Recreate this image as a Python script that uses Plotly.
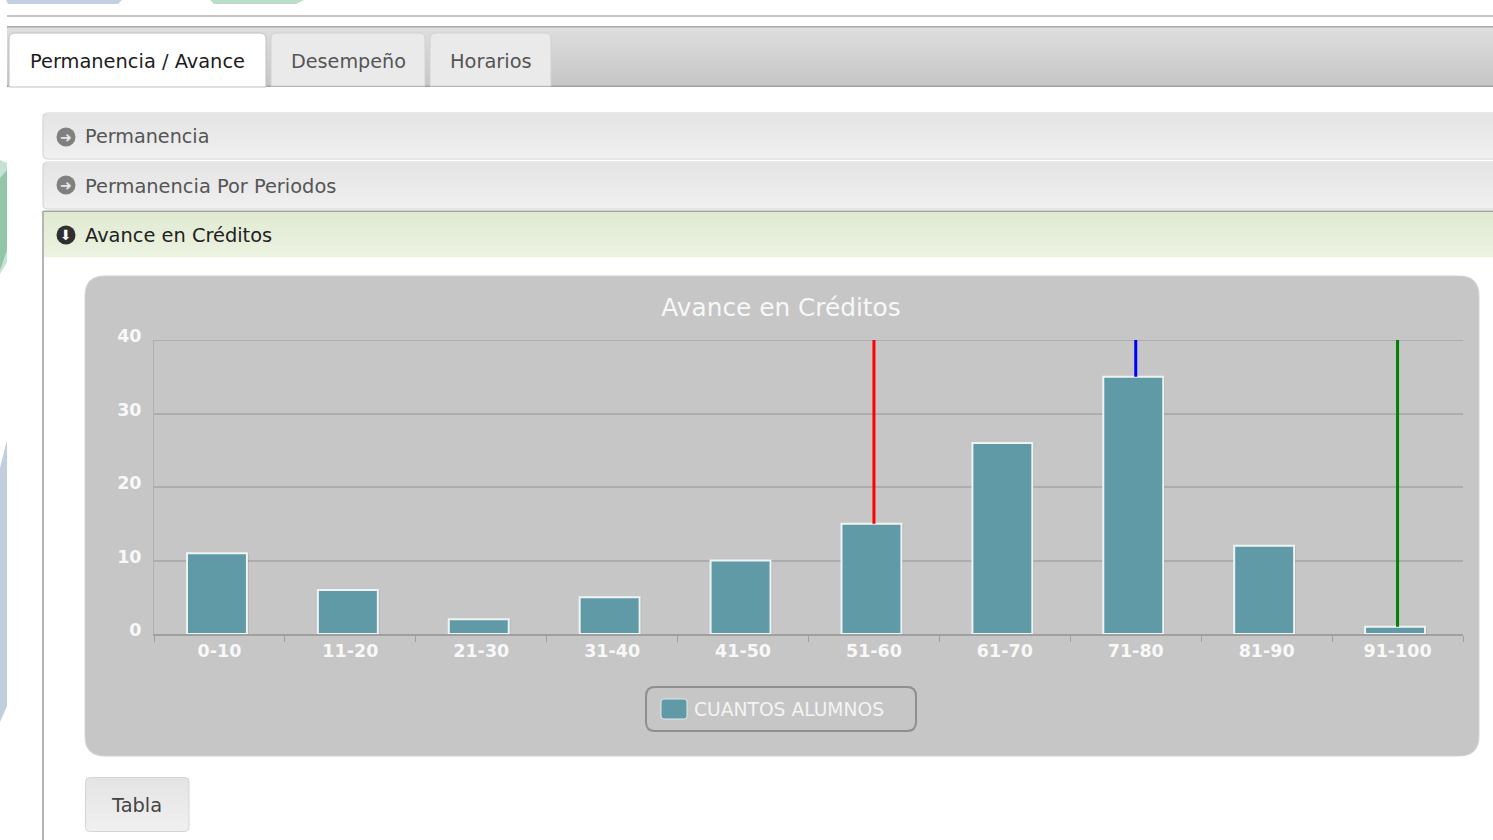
import plotly.graph_objects as go

W, H = 1493, 840
categories = ["0-10", "11-20", "21-30", "31-40", "41-50", "51-60", "61-70", "71-80", "81-90", "91-100"]
alumnos = [11, 6, 2, 5, 10, 15, 26, 35, 12, 1]
y_ticks = [0, 10, 20, 30, 40]
y_top = 40
marker_red = ["51-60", 15]
marker_blue = ["71-80", 35]
marker_green = ["91-100", 1]
FONT = "DejaVu Sans"


def fx(x):
    return x / W


def fy(y):
    return 1 - y / H


def p(x, y):
    return f"{fx(x):.5f},{fy(y):.5f}"


def rr_path(x0, y0, x1, y1, r, tl=True, tr=True, bl=True, br=True):
    parts = []
    parts.append("M" + p(x0 + (r if tl else 0), y0))
    parts.append("L" + p(x1 - (r if tr else 0), y0))
    if tr:
        parts.append(f"Q{p(x1, y0)} {p(x1, y0 + r)}")
    parts.append("L" + p(x1, y1 - (r if br else 0)))
    if br:
        parts.append(f"Q{p(x1, y1)} {p(x1 - r, y1)}")
    parts.append("L" + p(x0 + (r if bl else 0), y1))
    if bl:
        parts.append(f"Q{p(x0, y1)} {p(x0, y1 - r)}")
    parts.append("L" + p(x0, y0 + (r if tl else 0)))
    if tl:
        parts.append(f"Q{p(x0, y0)} {p(x0 + r, y0)}")
    return " ".join(parts) + " Z"


shapes = []


def rect(x0, y0, x1, y1, fill, line=None, lw=0):
    shapes.append(dict(type="rect", xref="paper", yref="paper", x0=fx(x0), x1=fx(x1), y0=fy(y0), y1=fy(y1),
                       fillcolor=fill, line=dict(color=line or "rgba(0,0,0,0)", width=lw), layer="below"))


def rounded(x0, y0, x1, y1, r, fill, line=None, lw=0, **kw):
    shapes.append(dict(type="path", xref="paper", yref="paper", path=rr_path(x0, y0, x1, y1, r, **kw),
                       fillcolor=fill, line=dict(color=line or "rgba(0,0,0,0)", width=lw), layer="below"))


def poly(points, fill):
    path = "M" + " L".join(p(x, y) for x, y in points) + " Z"
    shapes.append(dict(type="path", xref="paper", yref="paper", path=path, fillcolor=fill,
                       line=dict(width=0), layer="below"))


def mix(a, b, t):
    return "rgb(" + ",".join(str(round(a[i] + (b[i] - a[i]) * t)) for i in range(3)) + ")"


def gradient(x0, y0, x1, y1, c0, c1):
    n = int(y1 - y0)
    for i in range(n):
        rect(x0, y0 + i, x1, y0 + i + 1.3, mix(c0, c1, i / max(n - 1, 1)))


# page background remnants
poly([(0, 160), (7, 163), (7, 262), (0, 274)], "#c6e2d2")
poly([(0, 178), (7, 170), (7, 250), (0, 270)], "#92c6a8")
poly([(7, 440), (7, 706), (0, 722), (0, 468)], "#c0cede")
poly([(6, 0), (122, 0), (118, 4), (8, 4)], "#c3d0e2")
poly([(210, 0), (304, 0), (296, 4), (214, 4)], "#bcdcca")
rect(7, 15, W, 17, "#c4c4c4")

# tab strip
gradient(7, 27, W, 86, (222, 222, 222), (198, 198, 198))
rect(7, 26, W, 27.5, "#a8a8a8")
rect(7, 85.5, W, 87, "#a0a0a0")
rounded(9, 33, 266, 87, 6, "#ffffff", "#c0c0c0", 1, bl=False, br=False)
rounded(271, 33, 425, 86, 6, "#eaeaea", "#d2d2d2", 1, bl=False, br=False)
rounded(430, 33, 551, 86, 6, "#eaeaea", "#d2d2d2", 1, bl=False, br=False)

# accordion
gradient(43, 114, W, 158, (228, 228, 228), (240, 240, 240))
rounded(43, 113, W + 8, 159, 5, "rgba(0,0,0,0)", "#d0d0d0", 1)
gradient(43, 163, W, 208, (228, 228, 228), (240, 240, 240))
rounded(43, 162, W + 8, 209, 5, "rgba(0,0,0,0)", "#d0d0d0", 1)
gradient(43, 212, W, 257, (224, 234, 208), (236, 243, 226))
rect(43, 210.5, W, 212, "#a4a4a4")
rect(42, 211, 44, 840, "#b5b5b5")

# icons
for cx, cy, col in [(66, 137, "#808080"), (66, 185, "#808080"), (66, 235, "#2f2f2f")]:
    shapes.append(dict(type="circle", xref="paper", yref="paper", x0=fx(cx - 9.5), x1=fx(cx + 9.5),
                       y0=fy(cy + 9.5), y1=fy(cy - 9.5), fillcolor=col, line=dict(width=0), layer="below"))

# chart panel
rounded(85, 276, 1479, 756, 20, "#c6c6c6", "#d2d2d2", 1)
# legend box and swatch
rounded(646, 687, 916, 731, 9, "#c6c6c6", "#8f8f8f", 2)
rounded(661, 699, 687, 719, 3, "#609aa6", "#dfe8ea", 1)
# tabla button
gradient(86, 778, 189, 831, (228, 228, 228), (240, 240, 240))
rounded(85.5, 777.5, 189, 831.5, 5, "rgba(0,0,0,0)", "#d4d4d4", 1)

# top grid line (plotly leaves it out at the range edge)
shapes.append(dict(type="line", xref="x domain", yref="y", x0=0, x1=1, y0=y_top, y1=y_top,
                   line=dict(color="#adadad", width=2), layer="below"))

annotations = []


def text(x, y, s, color, size, anchor="left"):
    annotations.append(dict(xref="paper", yref="paper", x=fx(x), y=fy(y), text=s, showarrow=False,
                            xanchor=anchor, yanchor="middle", font=dict(family=FONT, size=size, color=color)))


text(28, 62, "Permanencia / Avance", "#1c1c1c", 19.4)
text(289, 62, "Desempeño", "#555555", 19.2)
text(448, 62, "Horarios", "#555555", 19.4)
text(83, 137, "Permanencia", "#555555", 19.2)
text(83, 186, "Permanencia Por Periodos", "#555555", 19.4)
text(83, 235.5, "Avance en Créditos", "#222222", 19.4)
text(136.5, 805.5, "Tabla", "#444444", 19.4, "center")
text(66, 137, "➜", "#e8e8e8", 14, "center")
text(66, 185, "➜", "#e8e8e8", 14, "center")
text(66, 235, "⬇", "#ffffff", 14, "center")

fig = go.Figure()
fig.add_trace(go.Bar(x=categories, y=alumnos, offset=-0.235, width=0.458, showlegend=False, hoverinfo="skip",
                     marker=dict(color="rgba(0,0,0,0.13)", line=dict(width=0))))
fig.add_trace(go.Bar(x=categories, y=alumnos, name="CUANTOS ALUMNOS", offset=-0.248, width=0.458,
                     marker=dict(color="#609aa6", line=dict(width=0))))
fig.add_trace(go.Bar(x=categories, y=alumnos, offset=-0.248, width=0.458, showlegend=False, hoverinfo="skip",
                     marker=dict(color="rgba(0,0,0,0)", line=dict(color="#eef3f4", width=2))))
for mk, col in [(marker_red, "#ff0000"), (marker_blue, "#0000ff"), (marker_green, "#008000")]:
    fig.add_trace(go.Scatter(x=[mk[0], mk[0]], y=[mk[1], y_top], mode="lines", showlegend=False,
                             line=dict(color=col, width=3)))

fig.update_layout(
    width=W, height=H, autosize=False, margin=dict(l=0, r=0, t=0, b=0, autoexpand=False),
    paper_bgcolor="#ffffff", plot_bgcolor="rgba(0,0,0,0)", barmode="overlay",
    shapes=shapes, annotations=annotations,
    title=dict(text="Avance en Créditos", x=781 / W, xanchor="center", y=fy(307), yanchor="middle",
               font=dict(family=FONT, size=24.8, color="#f8f8f8")),
    xaxis=dict(domain=[fx(154), fx(1463)], type="category", categoryorder="array", categoryarray=categories,
               tickson="boundaries", ticks="outside", ticklen=6, tickcolor="#a0a0a0", tickwidth=1,
               showgrid=False, showline=True, linecolor="#a0a0a0", linewidth=2,
               tickfont=dict(family=FONT, size=17.5, color="#f8f8f8", weight="bold"), tickangle=0, fixedrange=True),
    yaxis=dict(domain=[fy(634), fy(340)], range=[0, y_top], tickvals=y_ticks, ticktext=[str(v) for v in y_ticks],
               ticks="outside", ticklen=8, tickcolor="rgba(0,0,0,0)", showgrid=True, gridcolor="#adadad",
               gridwidth=2, zeroline=False, showline=True, linecolor="#b0b0b0", linewidth=1, ticklabelshift=-4,
               tickfont=dict(family=FONT, size=17.5, color="#f8f8f8", weight="bold"), fixedrange=True),
    legend=dict(x=fx(654), y=fy(709), xanchor="left", yanchor="middle", bgcolor="rgba(0,0,0,0)",
                borderwidth=0, font=dict(family=FONT, size=18.7, color="#f4f4f4")),
    hovermode=False,
)

fig.write_html("out.html", config=dict(displayModeBar=False),
               post_script="document.body.style.margin='0';document.body.style.overflow='hidden';")
